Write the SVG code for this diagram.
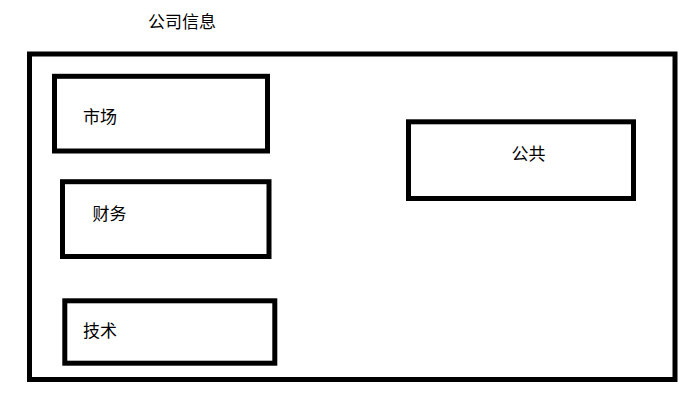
<svg xmlns="http://www.w3.org/2000/svg" width="699" height="400" viewBox="0 0 699 400">
  <style>
    .box { fill: none; stroke: #000; stroke-width: 5; }
    .lbl { font-family: "Noto Sans CJK SC", "Microsoft YaHei", sans-serif; font-size: 17px; fill: #000; }
  </style>
  <rect width="699" height="400" fill="#fff"/>
  <g id="title">
    <text class="lbl" x="148" y="28">公司信息</text>
  </g>
  <g id="container">
    <rect class="box" x="29.5" y="54" width="645.5" height="325.5"/>
  </g>
  <g id="market">
    <rect class="box" x="54.5" y="76.3" width="213" height="74.7"/>
    <text class="lbl" x="83" y="122.5">市场</text>
  </g>
  <g id="finance">
    <rect class="box" x="62.5" y="181.7" width="206.5" height="74.8"/>
    <text class="lbl" x="92.5" y="220">财务</text>
  </g>
  <g id="tech">
    <rect class="box" x="64.8" y="300.8" width="210" height="62.4"/>
    <text class="lbl" x="83" y="336.5">技术</text>
  </g>
  <g id="public">
    <rect class="box" x="408.5" y="121.8" width="225" height="76.7"/>
    <text class="lbl" x="511.5" y="160">公共</text>
  </g>
  <g id="connectors"></g>
</svg>
